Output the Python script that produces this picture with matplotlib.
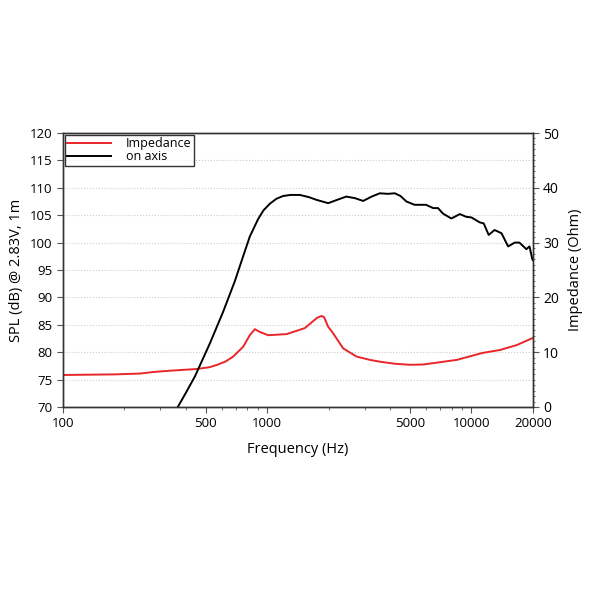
import numpy as np
import matplotlib
matplotlib.use("Agg")
import matplotlib.pyplot as plt
from matplotlib.ticker import FixedLocator, NullFormatter, MultipleLocator

plt.rcParams['font.family'] = ['Open Sans', 'DejaVu Sans']

# SPL on-axis response (Hz, dB)
spl_freq = [365, 400, 443, 524, 609, 695, 750, 822, 903, 960, 1031, 1110, 1195, 1300,
            1445, 1600, 1745, 1989, 2200, 2440, 2700, 2951, 3250, 3562, 3900, 4220,
            4500, 4810, 5270, 6000, 6500, 6870, 7260, 7980, 8780, 9460, 10000, 10980,
            11500, 12160, 13000, 14060, 15140, 16300, 17200, 18600, 19270, 19850, 20000]
spl_db = [70.0, 72.6, 75.6, 81.6, 87.4, 93.0, 96.7, 101.1, 104.3, 105.9, 107.1, 108.0,
          108.5, 108.7, 108.7, 108.3, 107.8, 107.2, 107.8, 108.4, 108.1, 107.6, 108.4,
          109.0, 108.9, 109.0, 108.5, 107.5, 106.9, 106.9, 106.3, 106.3, 105.3, 104.4,
          105.2, 104.7, 104.6, 103.7, 103.5, 101.4, 102.3, 101.7, 99.3, 100.0, 100.0,
          98.8, 99.3, 97.1, 96.8]

# Impedance (Hz, Ohm)
imp_freq = [100, 180, 238, 280, 334, 451, 520, 566, 625, 682, 763, 822, 870, 920, 1012,
            1245, 1530, 1670, 1760, 1846, 1900, 1989, 2104, 2355, 2740, 3182, 3562,
            4200, 4990, 5800, 6500, 8500, 11300, 13800, 16700, 20000]
imp_ohm = [5.84, 5.95, 6.1, 6.4, 6.62, 6.93, 7.25, 7.66, 8.3, 9.2, 11.0, 13.1, 14.2,
           13.7, 13.1, 13.3, 14.4, 15.6, 16.3, 16.6, 16.4, 14.65, 13.45, 10.7, 9.2,
           8.6, 8.27, 7.9, 7.7, 7.75, 8.0, 8.6, 9.85, 10.4, 11.3, 12.6]

xticks = [100, 500, 1000, 5000, 10000, 20000]
xtick_labels = ["100", "500", "1000", "5000", "10000", "20000"]

fig = plt.figure(figsize=(6, 6), dpi=100)
ax = fig.add_axes([0.105, 0.3217, 0.783, 0.4566])
ax2 = ax.twinx()
ax.set_zorder(ax2.get_zorder() + 1)
ax.patch.set_visible(False)

red = '#e8262a'
l_imp, = ax2.plot(imp_freq, imp_ohm, color=red, lw=1.4, solid_joinstyle='round')
l_spl, = ax.plot(spl_freq, spl_db, color='black', lw=1.4, solid_joinstyle='round')

ax.set_xscale('log')
ax.set_xlim(100, 20000)
ax.set_ylim(70, 120)
ax2.set_ylim(0, 50)

minor = [f for d in (100, 1000, 10000) for f in [d * k for k in range(2, 10)] if f < 20000]
ax.xaxis.set_major_locator(FixedLocator(xticks))
ax.set_xticklabels(xtick_labels)
ax.xaxis.set_minor_locator(FixedLocator(minor))
ax.xaxis.set_minor_formatter(NullFormatter())
ax.yaxis.set_major_locator(MultipleLocator(5))
ax2.yaxis.set_major_locator(MultipleLocator(10))
ax2.yaxis.set_minor_locator(MultipleLocator(1))

ax2.grid(True, which='both', axis='x', color='#cccccc', ls=':', lw=0.8)
for v in np.arange(5, 50, 5):
    ax2.axhline(v, color='#cccccc', ls=':', lw=0.8, zorder=0)

ax.tick_params(axis='both', which='major', labelsize=9.5, length=4, color='#555555')
ax.tick_params(axis='x', which='minor', length=2, color='#555555')
ax2.tick_params(axis='y', which='major', labelsize=10, length=4, color='#555555')
ax2.tick_params(axis='y', which='minor', length=1.5, color='#555555')

for a in (ax, ax2):
    for s in a.spines.values():
        s.set_color('#333333')
        s.set_linewidth(1.0)

ax.set_xlabel('Frequency (Hz)', fontsize=10.5, labelpad=8)
ax.set_ylabel('SPL (dB) @ 2.83V, 1m', fontsize=10.5, labelpad=4)
ax2.set_ylabel('Impedance (Ohm)', fontsize=10.5, labelpad=6)

leg = ax.legend([l_imp, l_spl], ['Impedance', 'on axis'], loc='upper left',
                fontsize=9, frameon=True, fancybox=False, borderpad=0.2,
                labelspacing=0.0, handlelength=3.5, handletextpad=1.2,
                borderaxespad=0.15)
leg.get_frame().set_edgecolor('black')
leg.get_frame().set_linewidth(1.0)

fig.savefig('out.png', dpi=100)
